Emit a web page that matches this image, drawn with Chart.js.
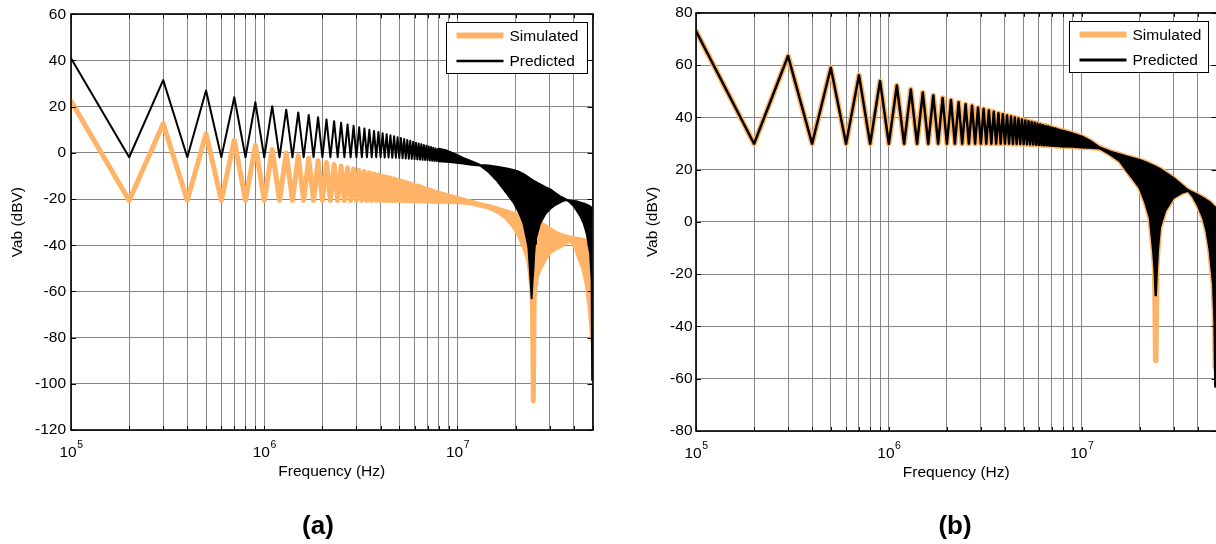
<!DOCTYPE html>
<html>
<head>
<meta charset="utf-8">
<title>Vab spectra</title>
<script src="https://cdn.jsdelivr.net/npm/chart.js@4.4.1/dist/chart.umd.min.js"></script>
<style>
  html, body { margin:0; padding:0; background:#fff; width:1216px; height:544px; overflow:hidden; }
  .panel { position:absolute; top:0; height:544px; }
  #panelA { left:0; width:608px; }
  #panelB { left:608px; width:620px; }
  .caption { position:absolute; top:510px; line-height:30px; font-family:"Liberation Sans", Arial, sans-serif;
             font-weight:bold; font-size:26px; color:#000; transform:translateX(-50%); white-space:nowrap; }
</style>
</head>
<body>
<div class="panel" id="panelA"><canvas id="chartA" width="608" height="544"></canvas></div>
<div class="panel" id="panelB"><canvas id="chartB" width="620" height="544"></canvas></div>
<div class="caption" style="left:318px">(a)</div>
<div class="caption" style="left:955px">(b)</div>
<script>
// Spectra are sampled at the harmonics of a 100 kHz fundamental.
const FUNDAMENTAL_HZ = 1e5;

// ---------- (a) harmonics 1..80 (odd: 1,3,...,79  even: 2,4,...,80), dBV ----------
const predA_odd = [41.0, 31.5, 27.0, 24.1, 21.9, 20.2, 18.7, 17.5, 16.4, 15.4,
                   14.5, 13.7, 13.0, 12.3, 11.7, 11.1, 10.6, 10.0, 9.5, 9.0,
                   8.5, 8.1, 7.6, 7.2, 6.8, 6.4, 6.0, 5.6, 5.2, 4.8,
                   4.4, 4.1, 3.7, 3.4, 3.1, 2.8, 2.5, 2.2, 1.9, 1.6];
const predA_even = [-1.9, -1.9, -1.9, -1.9, -1.9, -1.9, -1.9, -1.9, -1.9, -1.9,
                    -1.9, -1.9, -1.9, -1.9, -1.9, -1.9, -1.9, -1.9, -1.9, -1.9,
                    -2.0, -2.0, -2.1, -2.1, -2.2, -2.3, -2.4, -2.5, -2.6, -2.7,
                    -2.8, -2.9, -3.0, -3.1, -3.2, -3.3, -3.4, -3.5, -3.5, -3.6];
const simA_odd = [22.4, 12.6, 8.3, 5.4, 3.2, 1.4, -0.1, -1.3, -2.4, -3.4,
                  -4.2, -5.0, -5.7, -6.4, -7.0, -7.6, -8.1, -8.6, -9.1, -9.6,
                  -10.1, -10.5, -10.9, -11.3, -11.8, -12.2, -12.6, -13.0, -13.4, -13.8,
                  -14.2, -14.5, -14.9, -15.3, -15.7, -16.0, -16.3, -16.7, -17.0, -17.4];
const simA_even = [-20.6, -20.6, -20.6, -20.6, -20.6, -20.6, -20.6, -20.6, -20.6, -20.6,
                   -20.6, -20.6, -20.6, -20.6, -20.6, -20.6, -20.6, -20.6, -20.6, -20.6,
                   -20.6, -20.6, -20.6, -20.6, -20.6, -20.6, -20.7, -20.7, -20.7, -20.8,
                   -20.8, -20.8, -20.9, -20.9, -20.9, -20.9, -21.0, -21.0, -21.0, -21.0];

// (a) above 8 MHz the harmonics are too close to resolve: edges of the band they fill
const bandA_MHz = [8.0, 8.8, 9.9, 10.7, 11.8, 13.1, 14.5, 16.0, 18.0, 19.5,
                   21.0, 22.0, 23.3, 23.6, 23.9, 24.2, 24.45, 24.7, 24.95, 25.2,
                   25.5, 26.7, 28.5, 30.1, 32.0, 34.0, 35.3, 36.8, 38.3, 39.8,
                   41.5, 43.1, 45.0, 46.7, 48.6, 49.5, 49.8, 50.0];
const predA_top = [1.8, 1.0, -0.8, -2.2, -3.6, -5.2, -5.5, -6.0, -6.8, -7.4,
                   -8.3, -9.2, -10.6, -10.9, -11.2, -11.5, -11.8, -12.0, -12.2, -12.5,
                   -12.7, -13.5, -14.8, -15.7, -17.3, -18.8, -19.5, -20.4, -20.6, -20.8,
                   -21.0, -21.5, -21.9, -22.4, -23.2, -23.7, -23.9, -24.0];
const predA_bottom = [-3.6, -3.9, -4.3, -4.6, -5.1, -5.5, -8.3, -12.0, -17.5, -21.4,
                      -26.5, -30.8, -40.9, -48.0, -55.0, -63.0, -56.0, -51.0, -44.0, -39.4,
                      -37.0, -30.8, -26.5, -24.3, -22.6, -21.4, -20.8, -20.4, -21.5, -22.9,
                      -25.0, -27.2, -30.5, -35.1, -43.7, -55.2, -98.4, -75.0];
const simA_top = [-17.5, -18.4, -19.6, -20.4, -21.3, -22.4, -23.2, -24.2, -25.6, -26.5,
                  -27.4, -27.9, -28.5, -28.6, -28.8, -28.9, -29.0, -29.2, -29.3, -29.5,
                  -29.7, -30.6, -31.9, -33.2, -34.6, -35.6, -36.1, -36.5, -36.9, -37.1,
                  -37.4, -37.6, -37.9, -38.3, -38.8, -39.1, -39.2, -39.3];
const simA_bottom = [-21.0, -21.1, -21.2, -21.3, -21.7, -22.6, -23.5, -25.0, -28.0, -31.5,
                     -36.0, -40.0, -46.0, -49.0, -53.0, -58.0, -65.0, -107.4, -64.0, -57.0,
                     -54.0, -49.9, -45.5, -42.8, -41.3, -40.2, -39.6, -38.5, -37.3, -39.3,
                     -42.0, -46.0, -50.0, -56.0, -67.0, -75.0, -78.5, -81.0];

// ---------- (b) harmonics 1..80: simulated and predicted coincide here ----------
const lowB_odd = [73.0, 63.5, 59.0, 56.1, 53.9, 52.2, 50.7, 49.5, 48.4, 47.4,
                  46.6, 45.8, 45.0, 44.4, 43.7, 43.2, 42.6, 42.1, 41.6, 41.2,
                  40.7, 40.3, 39.9, 39.6, 39.2, 38.8, 38.5, 38.2, 37.9, 37.6,
                  37.3, 37.0, 36.7, 36.5, 36.2, 35.9, 35.7, 35.4, 35.2, 34.9];
const lowB_even = [29.9, 29.9, 29.9, 29.9, 29.9, 29.9, 29.9, 29.9, 29.9, 29.9,
                   29.9, 29.9, 29.9, 29.9, 29.9, 29.9, 29.9, 29.9, 29.9, 29.9,
                   29.9, 29.8, 29.8, 29.8, 29.7, 29.7, 29.6, 29.6, 29.5, 29.4,
                   29.4, 29.3, 29.3, 29.2, 29.1, 29.1, 29.0, 29.0, 28.9, 28.9];

const bandB_MHz = [8.0, 9.0, 10.0, 11.0, 12.4, 14.0, 15.8, 17.0, 18.5, 20.0,
                   21.4, 22.6, 23.5, 23.9, 24.2, 24.5, 24.8, 25.4, 27.0, 29.8,
                   33.0, 35.0, 35.7, 38.0, 40.0, 42.7, 44.5, 46.2, 48.1, 48.9,
                   49.3, 49.6, 50.0];
const predB_top = [34.8, 33.7, 32.6, 31.0, 28.4, 26.9, 25.7, 25.0, 24.3, 23.6,
                   22.8, 22.0, 21.4, 21.2, 21.0, 20.8, 20.6, 20.2, 18.9, 16.8,
                   14.0, 12.4, 12.0, 11.0, 10.2, 9.0, 8.2, 7.4, 6.0, 5.6,
                   5.4, 5.2, 5.0];
const predB_bottom = [28.9, 28.8, 28.6, 28.5, 28.2, 26.0, 23.3, 20.0, 16.5, 13.1,
                      7.5, 1.6, -11.0, -18.0, -28.0, -18.0, -11.0, -2.2, 4.2, 9.3,
                      11.2, 11.8, 12.0, 9.5, 6.5, 1.6, -3.5, -11.0, -23.8, -38.0,
                      -63.0, -45.0, -30.0];
const simB_top = [34.8, 33.7, 32.6, 31.0, 28.4, 26.9, 25.7, 25.0, 24.3, 23.6,
                  22.8, 22.0, 21.4, 21.2, 21.0, 20.8, 20.6, 20.2, 18.9, 16.8,
                  14.0, 12.4, 12.0, 11.0, 10.2, 9.0, 8.2, 7.4, 6.0, 5.6,
                  5.4, 5.2, 5.0];
const simB_bottom = [28.9, 28.8, 28.6, 28.5, 28.2, 26.0, 23.3, 20.0, 16.5, 13.1,
                     7.5, 1.6, -11.0, -18.0, -53.0, -18.0, -11.0, -2.2, 4.2, 9.3,
                     11.2, 11.8, 12.0, 9.5, 6.5, 1.6, -3.5, -11.0, -23.8, -38.0,
                     -55.6, -42.0, -30.0];

// ---------- styling ----------
const ORANGE = '#ffb366';
const BLACK = '#000000';
const GRID = '#858585';
const FONT = '"Liberation Sans", Arial, Helvetica, sans-serif';
Chart.defaults.font.family = FONT;
Chart.defaults.font.size = 15.5;
Chart.defaults.color = '#000';

// grid positions of the log frequency axis: 1..9 per decade
const xGrid = [];
for (const dec of [1e5, 1e6, 1e7]) {
  for (let m = 1; m <= 9; m++) if (m * dec <= 5e7) xGrid.push(m * dec);
}

function zigzag(odd, even) {
  const pts = [];
  for (let i = 0; i < odd.length; i++) {
    pts.push({x: (2 * i + 1) * FUNDAMENTAL_HZ, y: odd[i]});
    if (i < even.length) pts.push({x: (2 * i + 2) * FUNDAMENTAL_HZ, y: even[i]});
  }
  return pts;
}
function bandEdge(freqMHz, vals) {
  return freqMHz.map((f, i) => ({x: f * 1e6, y: vals[i]}));
}

function lineSet(label, data, color, width, order, fill, legendRank) {
  return {
    label, data, order, fill,
    borderColor: color, backgroundColor: color, borderWidth: width,
    borderJoinStyle: 'round', borderCapStyle: 'round',
    pointRadius: 0, pointHoverRadius: 0, tension: 0, clip: 0,
    legendRank
  };
}

// MATLAB-like box with inward tick marks
const framePlugin = {
  id: 'frame',
  afterDatasetsDraw(chart) {
    const {ctx, chartArea: a, scales} = chart;
    ctx.save();
    ctx.strokeStyle = '#000';
    ctx.lineWidth = 1;
    ctx.beginPath();
    scales.y.ticks.forEach(t => {
      const y = Math.round(scales.y.getPixelForValue(t.value)) + 0.5;
      ctx.moveTo(a.left, y); ctx.lineTo(a.left + 5, y);
      ctx.moveTo(a.right, y); ctx.lineTo(a.right - 5, y);
    });
    scales.x.ticks.forEach(t => {
      const x = Math.round(scales.x.getPixelForValue(t.value)) + 0.5;
      ctx.moveTo(x, a.bottom); ctx.lineTo(x, a.bottom - 4);
      ctx.moveTo(x, a.top); ctx.lineTo(x, a.top + 4);
    });
    ctx.stroke();
    ctx.lineWidth = 1.6;
    ctx.strokeRect(Math.round(a.left), Math.round(a.top),
                   Math.round(a.right) - Math.round(a.left), Math.round(a.bottom) - Math.round(a.top));
    ctx.restore();
  }
};

// decade labels of the frequency axis written as 10 with a raised exponent
const decadeLabelPlugin = {
  id: 'decadeLabels',
  afterDraw(chart) {
    const {ctx, scales: {x}} = chart;
    ctx.save();
    ctx.fillStyle = '#000';
    ctx.textBaseline = 'alphabetic';
    ctx.textAlign = 'left';
    x.ticks.forEach(t => {
      const e = Math.log10(t.value);
      if (Math.abs(e - Math.round(e)) > 1e-9) return;
      const base = '10';
      const exp = String(Math.round(e));
      ctx.font = '15.5px ' + FONT;
      const wb = ctx.measureText(base).width;
      ctx.font = '10.5px ' + FONT;
      const we = ctx.measureText(exp).width;
      const px = x.getPixelForValue(t.value);
      const left = px - (wb + we) / 2;
      const baseY = x.top + 27;
      ctx.font = '15.5px ' + FONT;
      ctx.fillText(base, left, baseY);
      ctx.font = '10.5px ' + FONT;
      ctx.fillText(exp, left + wb + 0.5, baseY - 9.5);
    });
    ctx.restore();
  }
};

// boxed legend in the upper-right corner of the plot area
const legendBoxPlugin = {
  id: 'legendBox',
  afterDraw(chart, args, opts) {
    const {ctx, chartArea: a} = chart;
    const items = chart.data.datasets.filter(d => d.legendRank)
      .sort((p, q) => p.legendRank - q.legendRank);
    const x0 = Math.round(a.right - opts.right - opts.width) + 0.5;
    const y0 = Math.round(a.top + opts.top) + 0.5;
    ctx.save();
    ctx.fillStyle = '#fff';
    ctx.fillRect(x0, y0, opts.width, opts.height);
    ctx.strokeStyle = '#000';
    ctx.lineWidth = 1;
    ctx.strokeRect(x0, y0, opts.width, opts.height);
    ctx.font = '15.5px ' + FONT;
    ctx.textBaseline = 'middle';
    ctx.textAlign = 'left';
    items.forEach((d, i) => {
      const y = y0 + 13 + i * 25.5;
      ctx.beginPath();
      ctx.strokeStyle = d.borderColor;
      ctx.lineWidth = opts.sampleWidths[i];
      ctx.moveTo(x0 + 10, y); ctx.lineTo(x0 + 57, y);
      ctx.stroke();
      ctx.fillStyle = '#000';
      ctx.fillText(d.label, x0 + 63, y + 1);
    });
    ctx.restore();
  }
};

function buildChart(id, cfg) {
  const datasets = [
    lineSet('Predicted', zigzag(cfg.predOdd, cfg.predEven), BLACK, cfg.predWidth, 0, false, 2),
    lineSet('', bandEdge(cfg.bandMHz, cfg.predTop), BLACK, cfg.predWidth, 1, '+1'),
    lineSet('', bandEdge(cfg.bandMHz, cfg.predBottom), BLACK, cfg.predWidth, 1, false),
    lineSet('Simulated', zigzag(cfg.simOdd, cfg.simEven), ORANGE, cfg.simWidth, 2, false, 1),
    lineSet('', bandEdge(cfg.bandMHz, cfg.simTop), ORANGE, cfg.simWidth, 3, '+1'),
    lineSet('', bandEdge(cfg.bandMHz, cfg.simBottom), ORANGE, cfg.simWidth, 3, false)
  ];
  return new Chart(document.getElementById(id), {
    type: 'line',
    data: {datasets},
    options: {
      responsive: false,
      animation: false,
      events: [],
      layout: {padding: cfg.padding},
      plugins: {
        legend: {display: false},
        tooltip: {enabled: false},
        legendBox: cfg.legend
      },
      scales: {
        x: {
          type: 'logarithmic', min: 1e5, max: 5e7,
          afterBuildTicks: s => { s.ticks = xGrid.map(v => ({value: v})); },
          afterFit: s => { s.height = cfg.xAxisHeight; },
          grid: {color: GRID, lineWidth: 1, drawTicks: false},
          border: {display: false},
          ticks: {display: false, autoSkip: false},
          title: {display: true, text: 'Frequency (Hz)', color: '#000', padding: {top: 0, bottom: cfg.xTitlePad}}
        },
        y: {
          min: cfg.yMin, max: cfg.yMax,
          afterFit: s => { s.width = cfg.yAxisWidth; },
          grid: {color: GRID, lineWidth: 1, drawTicks: false},
          border: {display: false},
          ticks: {stepSize: 20, padding: cfg.yTickPad, color: '#000'},
          title: {display: true, text: 'Vab (dBV)', color: '#000', padding: {top: cfg.yTitlePad, bottom: 0}}
        }
      }
    },
    plugins: [framePlugin, decadeLabelPlugin, legendBoxPlugin]
  });
}

buildChart('chartA', {
  predOdd: predA_odd, predEven: predA_even, simOdd: simA_odd, simEven: simA_even,
  bandMHz: bandA_MHz, predTop: predA_top, predBottom: predA_bottom, simTop: simA_top, simBottom: simA_bottom,
  predWidth: 2, simWidth: 5,
  yMin: -120, yMax: 60,
  padding: {left: 0, top: 13, right: 15.5, bottom: 0},
  yAxisWidth: 71, xAxisHeight: 114, xTitlePad: 63, yTitlePad: 8, yTickPad: 5,
  legend: {right: 6, top: 8, width: 141, height: 51, sampleWidths: [6, 2.5]}
});

buildChart('chartB', {
  predOdd: lowB_odd, predEven: lowB_even, simOdd: lowB_odd, simEven: lowB_even,
  bandMHz: bandB_MHz, predTop: predB_top, predBottom: predB_bottom, simTop: simB_top, simBottom: simB_bottom,
  predWidth: 2.5, simWidth: 5.5,
  yMin: -80, yMax: 80,
  padding: {left: 0, top: 12.5, right: 11.5, bottom: 0},
  yAxisWidth: 88, xAxisHeight: 113, xTitlePad: 62, yTitlePad: 35.5, yTickPad: 3.5,
  legend: {right: 8.5, top: 8.5, width: 139, height: 51, sampleWidths: [6, 3]}
});
</script>
</body>
</html>
